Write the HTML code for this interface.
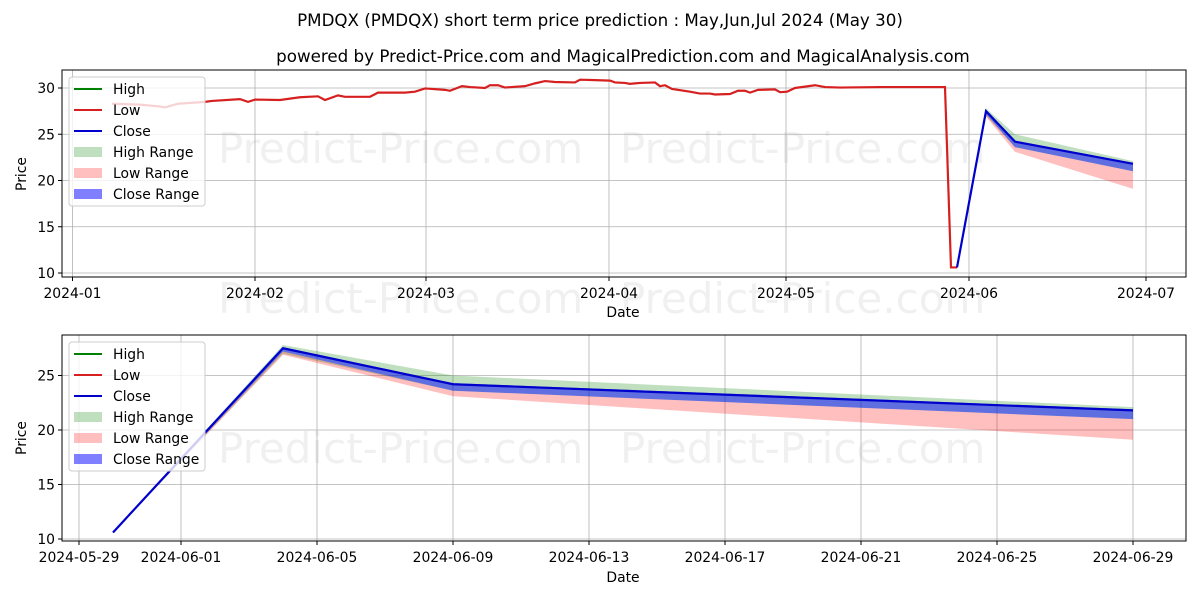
<!DOCTYPE html>
<html><head><meta charset="utf-8"><style>
body{margin:0;background:#fff}
svg text{font-family:"DejaVu Sans","Liberation Sans",sans-serif}
</style></head><body>
<svg id="s" width="1200" height="600" xmlns="http://www.w3.org/2000/svg">
<rect width="1200" height="600" fill="#fff"/>
<text x="600" y="26" font-size="16.7" text-anchor="middle">PMDQX (PMDQX) short term price prediction : May,Jun,Jul 2024 (May 30)</text>
<text x="623" y="62" font-size="16.7" text-anchor="middle">powered by Predict-Price.com and MagicalPrediction.com and MagicalAnalysis.com</text>
<g id="g"></g>
</svg>
<script>
const g=document.getElementById('g');let h='';
const FS=13.9;
function ty(v){return 273-(v-10)*9.25}
function by(v){return 539-(v-10)*10.9}
function bx(d){return 79+d*34}
[[218,163],[620,163],[218,313],[620,313],[218,463],[620,463]].forEach(p=>{h+=`<text x="${p[0]}" y="${p[1]}" font-size="42" fill="#000" fill-opacity="0.06">Predict-Price.com</text>`});
const tx=[[72.5,'2024-01'],[255,'2024-02'],[426,'2024-03'],[609,'2024-04'],[786,'2024-05'],[969,'2024-06'],[1146,'2024-07']];
tx.forEach(t=>{h+=`<line x1="${t[0]}" x2="${t[0]}" y1="70" y2="277" stroke="#b0b0b0" stroke-width="0.8"/><line x1="${t[0]}" x2="${t[0]}" y1="277" y2="281" stroke="#000"/><text x="${t[0]}" y="298" font-size="${FS}" text-anchor="middle">${t[1]}</text>`});
[10,15,20,25,30].forEach(v=>{const y=ty(v);h+=`<line x1="62" x2="1186" y1="${y}" y2="${y}" stroke="#b0b0b0" stroke-width="0.8"/><line x1="58" x2="62" y1="${y}" y2="${y}" stroke="#000"/><text x="55" y="${y+5}" font-size="${FS}" text-anchor="end">${v}</text>`});
h+=`<text x="623" y="317" font-size="${FS}" text-anchor="middle">Date</text><text transform="translate(26,174) rotate(-90)" font-size="${FS}" text-anchor="middle">Price</text>`;
function band(xs,a,b,f,op,yf){let p=xs.map((x,i)=>x+','+yf(a[i])).join(' ')+' '+xs.map((x,i)=>x+','+yf(b[i])).reverse().join(' ');return `<polygon points="${p}" fill="${f}" fill-opacity="${op}"/>`}
let X=[957,986,1015,1133];
h+=band(X,[10.6,27.8,25.0,22.1],[10.6,27.0,23.6,21.0],'green',0.25,ty);
h+=band(X,[10.6,27.2,23.6,21.0],[10.6,26.9,23.1,19.1],'red',0.25,ty);
h+=band(X,[10.6,27.6,24.3,21.9],[10.6,27.2,23.6,21.0],'blue',0.5,ty);
const red=[[112,28.3],[140,28.2],[160,28.0],[165,27.9],[178,28.3],[205,28.5],[212,28.6],[240,28.8],[248,28.5],[255,28.75],[280,28.7],[290,28.85],[300,29.0],[318,29.1],[325,28.7],[338,29.2],[345,29.05],[370,29.05],[378,29.5],[405,29.5],[415,29.6],[425,29.95],[445,29.8],[450,29.7],[462,30.2],[470,30.1],[485,30.0],[490,30.3],[498,30.3],[505,30.05],[525,30.2],[535,30.5],[545,30.75],[555,30.65],[575,30.6],[580,30.9],[595,30.85],[610,30.8],[615,30.6],[625,30.55],[630,30.45],[640,30.55],[655,30.6],[660,30.2],[665,30.3],[672,29.9],[690,29.6],[700,29.4],[710,29.4],[715,29.3],[730,29.35],[738,29.7],[745,29.7],[750,29.5],[758,29.8],[775,29.85],[780,29.55],[787,29.6],[795,30.0],[815,30.3],[825,30.1],[840,30.05],[880,30.1],[945,30.1],[951,10.6],[957,10.6]];
h+=`<polyline points="${red.map(p=>p[0]+','+ty(p[1])).join(' ')}" fill="none" stroke="#d62020" stroke-width="2.2"/>`;
h+=`<polyline points="957,${ty(10.6)} 986,${ty(27.5)} 1015,${ty(24.2)} 1133,${ty(21.8)}" fill="none" stroke="#0000cc" stroke-width="2.2"/>`;
h+=`<rect x="62" y="70" width="1124" height="207" fill="none" stroke="#000" stroke-width="1"/>`;
function legend(y0){let s=`<rect x="69" y="${y0}" width="136" height="129" rx="3" fill="#fff" fill-opacity="0.8" stroke="#ccc"/>`;
const it=[['l','green','High'],['l','#d62020','Low'],['l','#0000cc','Close'],['r','rgba(0,128,0,0.25)','High Range'],['r','rgba(255,0,0,0.25)','Low Range'],['r','rgba(0,0,255,0.5)','Close Range']];
it.forEach((t,i)=>{const y=y0+12+i*21;if(t[0]=='l')s+=`<line x1="74" x2="102" y1="${y}" y2="${y}" stroke="${t[1]}" stroke-width="2"/>`;else s+=`<rect x="74" y="${y-5}" width="28" height="10" fill="${t[1]}"/>`;s+=`<text x="113" y="${y+5}" font-size="${FS}">${t[2]}</text>`});return s}
h+=legend(77);
const bt=[[0,'2024-05-29'],[3,'2024-06-01'],[7,'2024-06-05'],[11,'2024-06-09'],[15,'2024-06-13'],[19,'2024-06-17'],[23,'2024-06-21'],[27,'2024-06-25'],[31,'2024-06-29']];
bt.forEach(t=>{const x=bx(t[0]);h+=`<line x1="${x}" x2="${x}" y1="335" y2="541" stroke="#b0b0b0" stroke-width="0.8"/><line x1="${x}" x2="${x}" y1="541" y2="545" stroke="#000"/><text x="${x}" y="562" font-size="${FS}" text-anchor="middle">${t[1]}</text>`});
[10,15,20,25].forEach(v=>{const y=by(v);h+=`<line x1="62" x2="1186" y1="${y}" y2="${y}" stroke="#b0b0b0" stroke-width="0.8"/><line x1="58" x2="62" y1="${y}" y2="${y}" stroke="#000"/><text x="55" y="${y+5}" font-size="${FS}" text-anchor="end">${v}</text>`});
h+=`<text x="623" y="582" font-size="${FS}" text-anchor="middle">Date</text><text transform="translate(26,438) rotate(-90)" font-size="${FS}" text-anchor="middle">Price</text>`;
X=[bx(1),bx(6),bx(11),bx(31)];
h+=band(X,[10.6,27.8,25.0,22.1],[10.6,27.0,23.6,21.0],'green',0.25,by);
h+=band(X,[10.6,27.2,23.6,21.0],[10.6,26.9,23.1,19.1],'red',0.25,by);
h+=band(X,[10.6,27.6,24.3,21.9],[10.6,27.2,23.6,21.0],'blue',0.5,by);
h+=`<polyline points="${X[0]},${by(10.6)} ${X[1]},${by(27.5)} ${X[2]},${by(24.2)} ${X[3]},${by(21.8)}" fill="none" stroke="#0000cc" stroke-width="2.2"/>`;
h+=`<rect x="62" y="335" width="1124" height="206" fill="none" stroke="#000" stroke-width="1"/>`;
h+=legend(342);
g.innerHTML=h;
</script>
</body></html>
